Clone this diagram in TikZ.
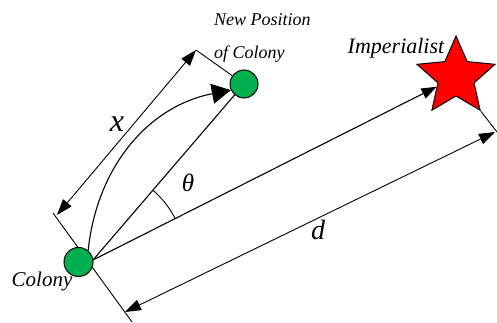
\documentclass[tikz,border=0pt]{standalone}
\usepackage{fontspec}
\setmainfont{Liberation Serif}
\newfontfamily\lblfont{Liberation Serif Italic}
\usetikzlibrary{arrows.meta,shapes.geometric,positioning}
\definecolor{colgreen}{RGB}{0,176,80}

\begin{document}
\begin{tikzpicture}[x=1pt, y=1pt,
  colony/.style={circle, draw, fill=colgreen, line width=1pt, minimum size=29pt, inner sep=0pt},
  imper/.style={star, star points=5, star point height=22pt, draw, fill=red, line width=1pt, minimum size=82pt, inner sep=0pt},
  vec/.style={line width=1.1pt, -{Triangle[length=15pt,width=11pt]}},
  curv/.style={line width=1.1pt, -{Triangle[length=19pt,width=20pt]}},
  dim/.style={line width=0.9pt, {Triangle[length=16pt,width=11pt]}-{Triangle[length=16pt,width=11pt]}},
  ext/.style={line width=0.9pt},
  lbl/.style={font=\lblfont\fontsize{#1}{#1}\selectfont, inner sep=0pt}
]
  \useasboundingbox (0,0) rectangle (497,323);

  % Dimension end points
  \coordinate (o) at (93,63);
  \coordinate (xa) at (57,108);
  \coordinate (xb) at (196,273);
  \coordinate (da) at (125,11);
  \coordinate (db) at (495,191);
  \coordinate (el) at (53,110);
  \coordinate (er) at (497,191);

  % Extension line behind the colony
  \draw[ext] (el) -- (132,1);

  % Colonies and imperialist
  \node[colony] (colony) at (78.5,61) {};
  \node[colony, minimum size=28pt] (newpos) at (244,239) {};
  \node[imper] (imp) at (456,246) {};

  % Movement towards the imperialist
  \draw[vec] (o) -- (imp);
  \draw[ext, line width=1.1pt] (o) -- (newpos);
  \draw[curv] (colony.50) to[out=84, in=191] (newpos.205);

  % Angle theta
  \draw[ext] ([shift={(27.1:92)}]o) arc[start angle=27.1, end angle=49.4, radius=92];

  % Dimensions x and d
  \draw[ext] (xb) -- (newpos);
  \draw[ext] (imp.outer point 4) -- (er);
  \draw[dim] (xa) -- (xb);
  \draw[dim] (da) -- (db);

  % Labels
  \node[font=\lblfont\fontsize{18}{33}\selectfont, inner sep=0pt, align=left, anchor=west] (newlbl) at (214,285) {New Position\\of Colony};
  \node[lbl=22] (implbl) at (396,275) {Imperialist};
  \node[lbl=21] (collbl) at (42,42) {Colony};
  \node[lbl=32] (xlbl) at (117,199) {x};
  \node[lbl=25] (thlbl) at (188,140) {θ};
  \node[lbl=28] (dlbl) at (318,93) {d};
\end{tikzpicture}
\end{document}
